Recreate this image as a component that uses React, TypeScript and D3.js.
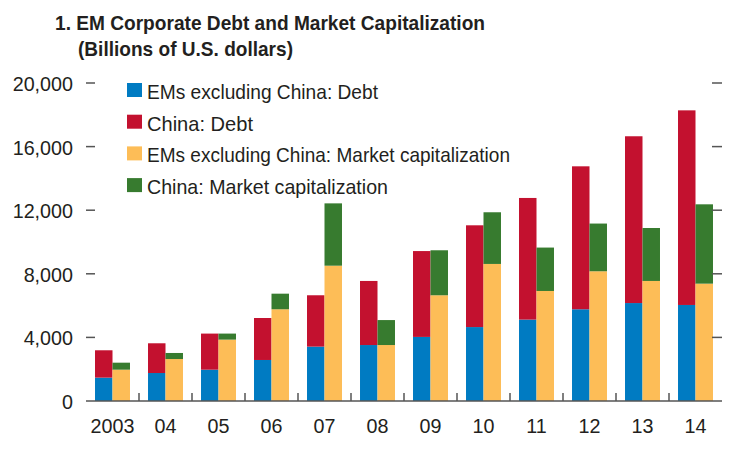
import React from "react";
import * as d3 from "d3";

const years = ["2003", "04", "05", "06", "07", "08", "09", "10", "11", "12", "13", "14"];
const emDebt = [1470, 1760, 1970, 2580, 3420, 3520, 4030, 4650, 5120, 5770, 6160, 6040];
const chinaDebt = [1720, 1870, 2270, 2640, 3230, 4030, 5400, 6400, 7650, 8990, 10490, 12240];
const emMcap = [1970, 2640, 3860, 5770, 8510, 3520, 6650, 8620, 6920, 8160, 7550, 7380];
const chinaMcap = [440, 380, 380, 980, 3920, 1570, 2830, 3250, 2730, 3000, 3330, 4990];
const yTicks = [0, 4000, 8000, 12000, 16000, 20000];
const legendLabels = [
  "EMs excluding China: Debt",
  "China: Debt",
  "EMs excluding China: Market capitalization",
  "China: Market capitalization",
];
const colors = ["#007BC2", "#C3112F", "#FDBD57", "#377B2F"];

const W = 736;
const H = 451;
const FONT = "'Liberation Sans', Arial, sans-serif";
const TXT = "#231F20";

export default function App() {
  const x = d3.scaleBand<string>().domain(years).range([86, 722]).paddingInner(0.34).paddingOuter(0.17);
  const sub = d3.scaleBand<string>().domain(["debt", "mcap"]).range([0, x.bandwidth()]);
  const y = d3.scaleLinear().domain([0, 20000]).range([401, 83]);
  const step = x.step();

  const bars: React.ReactNode[] = [];
  years.forEach((yr, i) => {
    const x0 = x(yr)!;
    const stacks = [
      { key: "debt", parts: [emDebt[i], chinaDebt[i]], cols: [colors[0], colors[1]] },
      { key: "mcap", parts: [emMcap[i], chinaMcap[i]], cols: [colors[2], colors[3]] },
    ];
    stacks.forEach((s) => {
      let acc = 0;
      s.parts.forEach((v, j) => {
        const top = y(acc + v);
        const bot = y(acc);
        bars.push(
          <rect
            key={`${yr}-${s.key}-${j}`}
            x={x0 + sub(s.key)!}
            y={top}
            width={sub.bandwidth()}
            height={bot - top}
            fill={s.cols[j]}
          />
        );
        acc += v;
      });
    });
  });

  const boundaries = d3.range(1, years.length).map((k) => 86 + k * step);

  return (
    <svg
      width={W}
      height={H}
      style={{ position: "absolute", left: 0, top: 0, background: "#fff" }}
      fontFamily={FONT}
    >
      <text x={55} y={30} fontSize={21} fontWeight="bold" fill={TXT} textLength={430} lengthAdjust="spacingAndGlyphs">
        1. EM Corporate Debt and Market Capitalization
      </text>
      <text x={78} y={56} fontSize={21} fontWeight="bold" fill={TXT} textLength={215} lengthAdjust="spacingAndGlyphs">
        (Billions of U.S. dollars)
      </text>

      {bars}

      {/* y ticks left and right */}
      {yTicks.filter((t) => t > 0).map((t) => (
        <g key={t}>
          <line x1={86} x2={95} y1={y(t)} y2={y(t)} stroke="#555" strokeWidth={1.5} />
          <line x1={712} x2={722} y1={y(t)} y2={y(t)} stroke="#555" strokeWidth={1.5} />
        </g>
      ))}
      {yTicks.map((t) => (
        <text
          key={"l" + t}
          transform={`translate(73,${y(t) + 8}) scale(0.94,1)`}
          fontSize={21}
          textAnchor="end"
          fill={TXT}
        >
          {d3.format(",")(t)}
        </text>
      ))}

      {/* x axis */}
      <line x1={86} x2={722} y1={401} y2={401} stroke="#555" strokeWidth={1.5} />
      {boundaries.map((bx) => (
        <line key={bx} x1={bx} x2={bx} y1={393} y2={401} stroke="#555" strokeWidth={1.5} />
      ))}
      {years.map((yr) => (
        <text
          key={"x" + yr}
          transform={`translate(${x(yr)! + x.bandwidth() / 2},432.5) scale(0.94,1)`}
          fontSize={21}
          textAnchor="middle"
          fill={TXT}
        >
          {yr}
        </text>
      ))}

      {/* legend */}
      {legendLabels.map((lab, i) => {
        const widths = [231, 106, 363, 241];
        return (
          <g key={lab}>
            <rect x={127} y={83 + i * 31.7} width={15} height={14} fill={colors[i]} />
            <text
              x={147}
              y={99 + i * 31.7}
              fontSize={21}
              fill={TXT}
              textLength={widths[i]}
              lengthAdjust="spacingAndGlyphs"
            >
              {lab}
            </text>
          </g>
        );
      })}
    </svg>
  );
}
